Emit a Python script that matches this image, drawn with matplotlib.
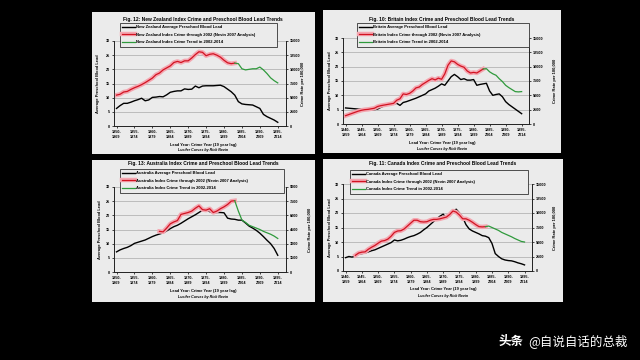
import matplotlib
matplotlib.use("Agg")
import matplotlib.pyplot as plt
import matplotlib.patheffects as pe
from matplotlib.patches import Rectangle

plt.rcParams["font.family"] = ["Liberation Sans", "DejaVu Sans"]

# ---- data ----
nz_lead_years = list(range(1950, 1996))
nz_lead = [6.2, 7.2, 8.0, 8.0, 8.4, 8.9, 9.3, 9.8, 8.9, 9.2,
           10.1, 10.2, 10.4, 10.3, 11.0, 11.9, 12.2, 12.4, 12.4, 13.1,
           12.9, 13.0, 14.1, 13.5, 14.1, 14.2, 14.2, 14.2, 14.3, 14.4,
           13.9, 13.0, 12.1, 10.9, 8.6, 7.8, 7.6, 7.5, 7.4, 6.8,
           6.2, 4.1, 3.3, 2.7, 2.1, 1.3]
nz_red_years = list(range(1950, 1984))
nz_red = [5450, 5600, 6000, 6100, 6450, 6750, 7000, 7300, 7650, 8050,
          8450, 9050, 9350, 9900, 10250, 10600, 11200, 11400, 11200, 11500,
          11500, 12000, 12600, 13100, 13000, 12400, 12650, 12750, 12500, 12150,
          11600, 11150, 11000, 11100]
nz_green_years = list(range(1983, 1996))
nz_green = [11100, 11000, 10100, 9900, 10000, 10100, 10100, 10400, 9900, 9250,
            8500, 8000, 7600]

uk_lead_years = list(range(1940, 1996))
uk_lead = [5.6, 5.5, 5.4, 5.3, 5.2, 5.2, 5.1, 5.0, 5.0, 5.0,
           5.2, 5.8, 6.3, 6.6, 6.8, 7.0, 7.2, 6.5, 7.5, 7.8,
           8.2, 8.6, 9.0, 9.5, 10.0, 10.5, 11.5, 12.0, 12.5, 13.2,
           14.0, 13.5, 15.0, 16.5, 17.3, 16.5, 15.5, 15.8, 15.3, 15.3,
           15.5, 13.5, 13.8, 14.0, 14.2, 11.5, 10.0, 10.3, 10.5, 9.5,
           7.8, 6.8, 6.0, 5.2, 4.4, 3.6]
uk_red_years = list(range(1940, 1984))
uk_red = [1450, 1650, 1850, 2050, 2250, 2400, 2500, 2550, 2650, 2750,
          3050, 3200, 3300, 3400, 3500, 3600, 4150, 4400, 5250, 5150,
          5350, 5750, 6300, 6450, 6900, 7250, 7600, 7900, 7700, 8000,
          7800, 8750, 10250, 11000, 10850, 10400, 10100, 9900, 9250, 8900,
          9000, 8900, 9250, 9600]
uk_green_years = list(range(1983, 1996))
uk_green = [9600, 9650, 9100, 8750, 8500, 7900, 7400, 6750, 6350, 6000,
            5650, 5600, 5650]

au_lead_years = list(range(1950, 1996))
au_lead = [7.1, 7.8, 8.3, 8.7, 9.3, 10.1, 10.5, 10.9, 11.3, 11.9,
           12.5, 13.0, 13.4, 13.8, 14.5, 15.3, 16.0, 16.5, 17.2, 18.0,
           18.8, 19.5, 20.2, 21.0, 21.8, 22.0, 21.3, 20.8, 21.0, 21.0,
           20.9, 19.0, 18.7, 18.6, 18.3, 18.3, 17.3, 16.2, 15.5, 14.7,
           13.7, 12.5, 11.2, 10.0, 8.3, 5.9]
au_red_years = list(range(1962, 1984))
au_red = [4300, 4250, 4650, 5100, 5300, 5450, 6100, 6200, 6300, 6450,
          6750, 7000, 6600, 6550, 6700, 6300, 6450, 6700, 6900, 7150,
          7500, 7550]
au_green_years = list(range(1983, 1996))
au_green = [7550, 6450, 5500, 5250, 4950, 4800, 4650, 4500, 4300, 4150,
            4000, 3800, 3550]

ca_lead_years = list(range(1940, 1996))
ca_lead = [4.6, 5.0, 4.8, 5.2, 5.8, 6.0, 6.2, 6.6, 7.0, 7.3,
           7.8, 8.3, 8.8, 9.3, 9.8, 10.7, 10.4, 10.6, 11.0, 11.5,
           11.9, 12.2, 12.7, 13.3, 14.2, 15.0, 16.0, 17.0, 18.0, 18.9,
           19.6, 18.2, 19.0, 20.5, 21.3, 20.0, 18.5, 16.0, 14.5, 13.8,
           13.3, 12.8, 12.2, 12.0, 11.5, 9.5, 6.0, 5.0, 4.2, 3.8,
           3.6, 3.5, 3.2, 2.8, 2.5, 2.1]
ca_red_years = list(range(1943, 1984))
ca_red = [2700, 3100, 3250, 3300, 3750, 4100, 4400, 4800, 5150, 5250,
          5500, 6000, 6650, 6900, 6950, 7250, 7750, 8250, 8750, 8750,
          8500, 8450, 8500, 8750, 8900, 8900, 9000, 9150, 9300, 9750,
          10350, 10150, 9650, 9000, 9000, 8750, 8400, 8000, 7650, 7600,
          7650]
ca_green_years = list(range(1983, 1996))
ca_green = [7650, 7750, 7500, 7250, 7000, 6650, 6400, 6150, 5900, 5600,
            5350, 5100, 5000]

ticks_1950 = [1950, 1955, 1960, 1965, 1970, 1975, 1980, 1985, 1990, 1995]
ticks_1940 = [1940, 1945] + ticks_1950
left_ticks = [0, 5, 10, 15, 20, 25, 30]
right_ticks_15k = [0, 2500, 5000, 7500, 10000, 12500, 15000]
right_ticks_9k = [0, 1500, 3000, 4500, 6000, 7500, 9000]

W, H = 640, 360
PANEL = "#ebebeb"


def fx(px):
    return px / W


def fy(py):
    return 1 - py / H


def draw_panel(fig, panel, box, title, tpos, legbox, country,
               lyears, lead, ryears, red, gyears, green,
               xticks, rticks, xlim, ylab_x, xlab_y):
    x0, y0, x1, y1 = panel
    fig.patches.append(Rectangle((fx(x0), fy(y1)), (x1 - x0) / W, (y1 - y0) / H,
                                 transform=fig.transFigure, facecolor=PANEL,
                                 edgecolor="none", zorder=-5))
    l, t, r, b = box
    ax = fig.add_axes([fx(l), fy(b), (r - l) / W, (b - t) / H])
    ax.set_facecolor(PANEL)
    ax2 = ax.twinx()

    black, = ax.plot(lyears, lead, color="black", lw=1.0, zorder=3,
                     label=f"{country} Average Preschool Blood Lead")
    redl, = ax2.plot(ryears, red, color="#d21322", lw=0.9,
                     path_effects=[pe.Stroke(linewidth=3.2, foreground="#f4a6b0"), pe.Normal()],
                     label=f"{country} Index Crime through 2002 (Nevin 2007 Analysis)")
    greenl, = ax2.plot(gyears, green, color="#2f9a3c", lw=0.9,
                       label=f"{country} Index Crime Trend in 2002-2014")

    ax.set_xlim(*xlim)
    ax.set_ylim(0, 30)
    ax.set_yticks(left_ticks)
    ax2.set_ylim(0, rticks[-1])
    ax2.set_yticks(rticks)
    ax.set_xticks(xticks)
    ax.set_xticklabels([f"{y}-\n{y + 19}" for y in xticks])
    ax.yaxis.grid(True, color="#a9a9a9", lw=0.5)
    ax.set_axisbelow(True)

    for a in (ax, ax2):
        a.spines["top"].set_visible(False)
        for s in ("left", "right", "bottom"):
            a.spines[s].set_linewidth(0.6)
            a.spines[s].set_color("#222222")
        a.tick_params(labelsize=2.7, length=1.5, width=0.5, pad=1.5)
        for lab in a.get_xticklabels() + a.get_yticklabels():
            lab.set_fontweight("bold")
    ax.tick_params(axis="x", pad=1.2)
    for lab in ax.get_xticklabels():
        lab.set_linespacing(1.5)

    lx0, ly0, lx1, ly1 = legbox
    leg = ax2.legend(handles=[black, redl, greenl], loc="upper left",
                     bbox_to_anchor=(fx(lx0), fy(ly1), (lx1 - lx0) / W, (ly1 - ly0) / H),
                     bbox_transform=fig.transFigure, mode="expand", borderaxespad=0,
                     frameon=True, fancybox=False, framealpha=1,
                     facecolor=PANEL, edgecolor="#333333", handlelength=3.0,
                     handletextpad=0.4, labelspacing=0.85, borderpad=0.55,
                     prop={"weight": "bold", "size": 3.0})
    leg.get_frame().set_linewidth(0.6)
    leg.set_zorder(10)

    fig.text(fx(tpos[0]), fy(tpos[1]), title, ha="center", va="center",
             fontsize=3.5, fontweight="bold")
    cy = (t + b) / 2
    fig.text(fx(ylab_x[0]), fy(cy), "Average Preschool Blood Lead", rotation=90,
             ha="center", va="center", fontsize=2.9, fontweight="bold")
    fig.text(fx(ylab_x[1]), fy(cy), "Crime Rate per 100,000", rotation=90,
             ha="center", va="center", fontsize=2.9, fontweight="bold")
    fig.text(fx(tpos[0]), fy(xlab_y[0]), "Lead Year: Crime Year (19 year lag)",
             ha="center", va="center", fontsize=2.9, fontweight="bold")
    fig.text(fx(tpos[0]), fy(xlab_y[1]), "Lucifer Curves by Rick Nevin",
             ha="center", va="center", fontsize=2.6, fontweight="bold", style="italic")


fig = plt.figure(figsize=(6.4, 3.6), dpi=100, facecolor="black")

draw_panel(fig, (92, 12, 315, 154), (114, 41, 286, 126),
           "Fig. 12: New Zealand Index Crime and Preschool Blood Lead Trends", (203, 20),
           (120, 23, 277, 50), "New Zealand",
           nz_lead_years, nz_lead, nz_red_years, nz_red, nz_green_years, nz_green,
           ticks_1950, right_ticks_15k, (1949.3, 1997.3), (98, 303), (145, 150))

draw_panel(fig, (323, 10, 561, 153), (343, 38, 529, 124),
           "Fig. 10: Britain Index Crime and Preschool Blood Lead Trends", (442, 19),
           (357, 23, 529, 50), "Britain",
           uk_lead_years, uk_lead, uk_red_years, uk_red, uk_green_years, uk_green,
           ticks_1940, right_ticks_15k, (1939.2, 1997.3), (330, 555), (143, 149))

draw_panel(fig, (92, 160, 315, 302), (114, 187, 286, 272),
           "Fig. 13: Australia Index Crime and Preschool Blood Lead Trends", (203, 164),
           (120, 169, 284, 197), "Australia",
           au_lead_years, au_lead, au_red_years, au_red, au_green_years, au_green,
           ticks_1950, right_ticks_9k, (1949.3, 1997.3), (100, 310), (291, 297))

draw_panel(fig, (323, 159, 563, 302), (343, 184, 532, 271),
           "Fig. 11: Canada Index Crime and Preschool Blood Lead Trends", (443, 164),
           (350, 170, 528, 198), "Canada",
           ca_lead_years, ca_lead, ca_red_years, ca_red, ca_green_years, ca_green,
           ticks_1940, right_ticks_15k, (1939.2, 1997.3), (330, 555), (289, 296))

# watermark
fig.text(fx(628), fy(341), "@自说自话的总裁", ha="right", va="center", color="white",
         fontsize=9, family=["Noto Sans CJK SC", "DejaVu Sans"])
fig.text(fx(524), fy(341), "头条", ha="right", va="center", color="white",
         fontsize=9, fontweight="bold", family=["Noto Sans CJK SC", "DejaVu Sans"])

fig.savefig("out.png", dpi=100, facecolor="black")
